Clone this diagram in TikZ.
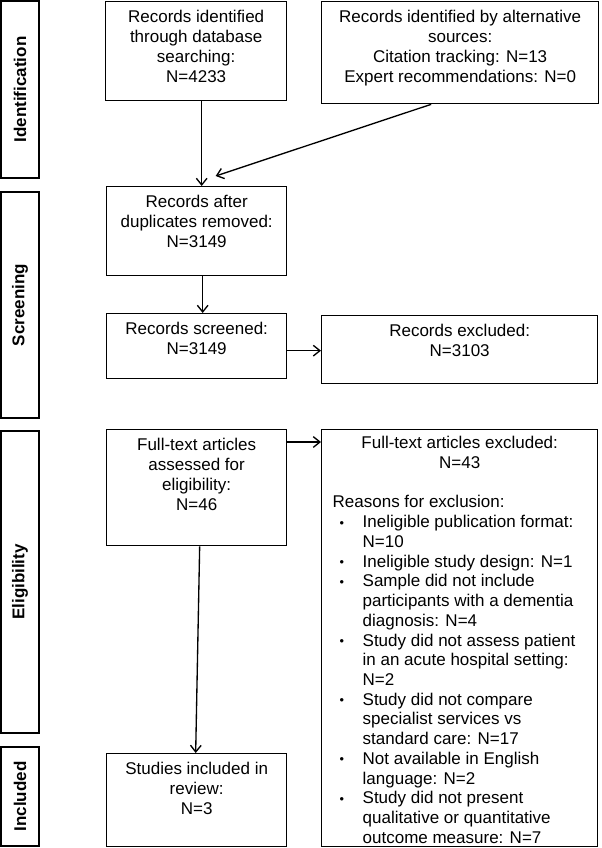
\documentclass[tikz,border=0pt]{standalone}
\usepackage{fontspec}
\setmainfont{Liberation Sans}
\usetikzlibrary{arrows.meta,calc}
\newlength\pxu
\setlength\pxu{0.75pt}
\newcommand\boxtxt[3]{\parbox[t][#2\pxu][t]{#1\pxu}{\fontsize{12.75pt}{15pt}\selectfont\centering\rule{0pt}{21\pxu}#3\par}}
\newcommand\bitem[1]{\par\noindent\hangindent=30\pxu\hangafter=1\hspace*{7\pxu}\makebox[23\pxu][l]{\raisebox{0.6\pxu}{\scalebox{0.75}{\textbullet}}}#1}
\begin{document}
\begin{tikzpicture}[x=0.75pt,y=-0.75pt,
  box/.style={draw, line width=1pt, inner sep=0pt, anchor=north west},
  stage/.style={draw, line width=1pt, inner sep=0pt, rotate=90,
    font=\fontsize{12.75pt}{15pt}\selectfont\bfseries, minimum height=38\pxu},
  arr/.style={line width=1pt, -{Straight Barb[length=5pt,width=8pt]}},
]
\useasboundingbox (0,0) rectangle (601,848);
% stage boxes
\node[stage, minimum width=177\pxu] (s1) at (20,89.5) {Identification};
\node[stage, minimum width=226\pxu] (s2) at (20,305) {Screening};
\node[stage, minimum width=302\pxu] (s3) at (20,582) {Eligibility};
\node[stage, minimum width=99\pxu] (s4) at (20,796.5) {Included};
% flow boxes
\node[box] (b1) at (105,1) {\boxtxt{181}{99}{Records identified\\through database\\searching:\\N=4233}};
\node[box] (b2) at (321,1) {\boxtxt{277}{102}{Records identified by alternative\\sources:\\Citation tracking: N=13\\Expert recommendations: N=0}};
\node[box] (b3) at (106,186) {\boxtxt{180}{89}{Records after\\duplicates removed:\\N=3149}};
\node[box] (b4) at (106,313) {\boxtxt{180}{65}{Records screened:\\N=3149}};
\node[box] (b5) at (321,315) {\boxtxt{276}{68}{Records excluded:\\N=3103}};
\node[box] (b6) at (106,429) {\boxtxt{180}{116}{Full-text articles\\assessed for\\eligibility:\\N=46}};
\node[box] (b7) at (321,429) {\parbox[t][417\pxu][t]{276\pxu}{\fontsize{12.75pt}{14.8pt}\selectfont
  \centering\rule{0pt}{19\pxu}Full-text articles excluded:\\N=43\par
  \vspace{14.8pt}
  \raggedright\leftskip=11\pxu
  \noindent Reasons for exclusion:
  \bitem{Ineligible publication format:\newline N=10}
  \bitem{Ineligible study design: N=1}
  \bitem{Sample did not include\newline participants with a dementia\newline diagnosis: N=4}
  \bitem{Study did not assess patient\newline in an acute hospital setting:\newline N=2}
  \bitem{Study did not compare\newline specialist services vs\newline standard care: N=17}
  \bitem{Not available in English\newline language: N=2}
  \bitem{Study did not present\newline qualitative or quantitative\newline outcome measure: N=7}
  \par}};
\node[box] (b8) at (106,753) {\boxtxt{180}{93}{Studies included in\\review:\\N=3}};
% connectors
\draw[arr] ($(b1.south)+(5.5,0)$) -- ($(b3.north)+(5,0)$);
\coordinate (a2) at ($(b2.south)+(-29,0)$);
\coordinate (a3) at ($(b3.north)+(19,-10)$);
\draw[arr] (a2) -- (a3);
\draw[arr] ($(b3.south)+(6,0)$) -- ($(b4.north)+(6,0)$);
\coordinate (p) at ($(b4.east)+(0,4.5)$);
\draw[arr] (p) -- (p -| b5.west);
\coordinate (q) at ($(b6.north east)+(0,13)$);
\draw[arr] (q) -- (q -| b7.west);
\draw[arr] ($(b6.south)+(3,0)$) -- ($(b8.north)+(-1,0)$);
\end{tikzpicture}
\end{document}
